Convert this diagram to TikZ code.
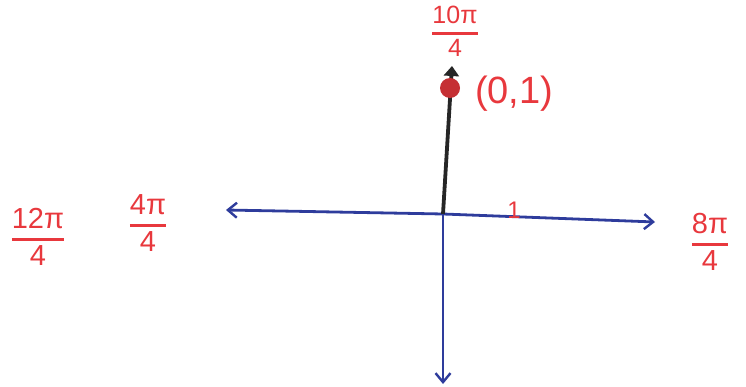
\documentclass[tikz,border=0pt]{standalone}
\usepackage{fontspec}
\setmainfont{Liberation Sans}
\usetikzlibrary{arrows.meta}
\definecolor{pen}{HTML}{E8383D}
\definecolor{axisblue}{HTML}{2E3C9C}
\newcommand{\hfr}[2]{{\renewcommand{\arraystretch}{0.75}\begin{tabular}{@{}c@{}}#1\\[0.12em]\hline\rule{0pt}{0.85em}#2\end{tabular}}}
\setlength{\arrayrulewidth}{2.6pt}
\tikzset{
  axisline/.style={draw=axisblue,line width=2.8pt,-{Straight Barb[length=9pt,width=15pt,line width=2.4pt]}},
  lab/.style={text=pen,font=\fontsize{29}{29}\selectfont,inner sep=1pt},
  ticklab/.style={text=pen,font=\fontsize{24}{24}\selectfont,inner sep=0pt},
}
\begin{document}
\begin{tikzpicture}[x=1pt,y=-1pt]
\useasboundingbox (0,0) rectangle (746,387);
\coordinate (O) at (443,214);
\coordinate (L) at (226,210);
\coordinate (R) at (655,222);
\coordinate (D) at (443,384);
\coordinate (T) at (452,66);
\draw[axisline] (O) -- (L);
\draw[axisline] (O) -- (R);
\draw[axisline] (O) -- (D);
\draw[line width=3.8pt,black!85,-{Triangle[length=10pt,width=15pt]}] (O) -- (T);
\node[circle,fill=pen!85!black,minimum size=20pt,inner sep=0pt] (P) at (450,88) {};
\node[ticklab,anchor=south] (one) at (514,219) {1};
\node[lab,font=\fontsize{25}{25}\selectfont] (a) at (455,34) {\hfr{10π}{4}};
\node[lab,font=\fontsize{38}{40}\selectfont,anchor=west] (pt) at (474,94) {(0,1)};
\node[lab] (b) at (38,240) {\hfr{12π}{4}};
\node[lab] (c) at (148,226) {\hfr{4π}{4}};
\node[lab] (d) at (710,245) {\hfr{8π}{4}};
\end{tikzpicture}
\end{document}
